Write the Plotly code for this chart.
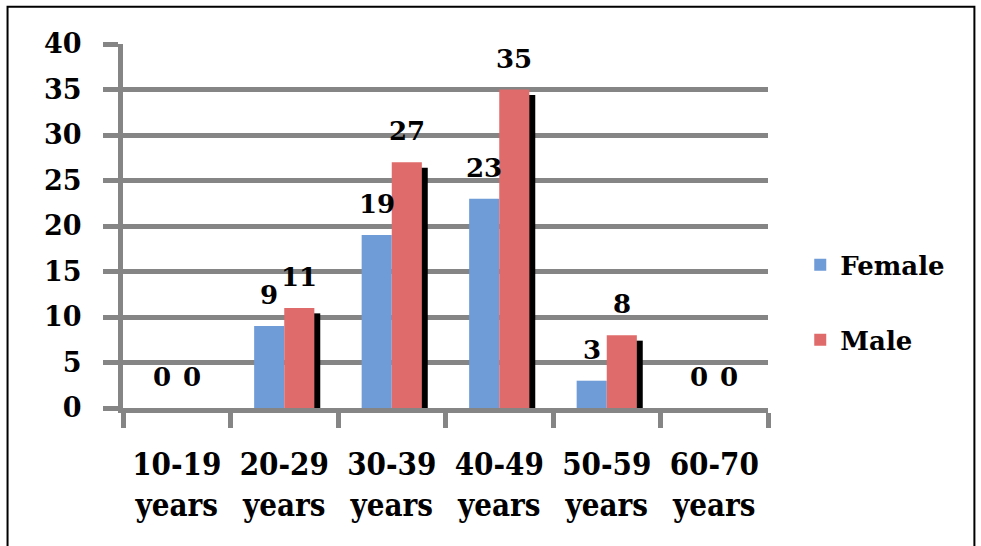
import plotly.graph_objects as go

categories = ["10-19<br>years", "20-29<br>years", "30-39<br>years",
              "40-49<br>years", "50-59<br>years", "60-70<br>years"]
female = [0, 9, 19, 23, 3, 0]
male = [0, 11, 27, 35, 8, 0]
y_ticks = [0, 5, 10, 15, 20, 25, 30, 35, 40]

FONT = "DejaVu Serif"
FONT_C = "DejaVu Serif Condensed, DejaVu Serif"
GRID = "#858585"
FEMALE_C = "#6f9bd6"
MALE_C = "#e06b6b"

shadow = [max(v - 0.6, 0) for v in male]

fig = go.Figure()
fig.add_trace(go.Bar(x=categories, y=female, name="Female", marker_color=FEMALE_C,
                     marker_line_width=0, offset=-0.28, width=0.28, legendgroup="f"))
fig.add_trace(go.Bar(x=categories, y=shadow, name="shadow", marker_color="#000000",
                     marker_line_width=0, offset=0.27, width=0.065, showlegend=False,
                     hoverinfo="skip"))
fig.add_trace(go.Bar(x=categories, y=male, name="Male", marker_color=MALE_C,
                     marker_line_width=0, offset=0.0, width=0.28, legendgroup="m"))

for c, fv, mv in zip(categories, female, male):
    for v, dx in ((fv, -15), (mv, 15)):
        fig.add_annotation(x=c, y=v, text=str(v), showarrow=False, xshift=dx, yshift=14,
                           yanchor="bottom",
                           font=dict(family=FONT, size=26, color="black", weight="bold"))

fig.update_layout(
    width=981, height=546,
    margin=dict(l=123, r=213, t=44, b=138),
    paper_bgcolor="white", plot_bgcolor="white",
    barmode="overlay",
    showlegend=True,
    legend=dict(x=1.05, xanchor="left", y=0.29, yanchor="middle",
                font=dict(family=FONT, size=26, color="black", weight="bold"),
                tracegroupgap=38, bgcolor="rgba(0,0,0,0)"),
    xaxis=dict(type="category", showline=True, linecolor=GRID, linewidth=5,
               ticks="outside", tickson="boundaries", ticklen=15, tickwidth=5, tickcolor=GRID,
               showgrid=False, ticklabelstandoff=25,
               tickfont=dict(family=FONT_C, size=31, color="black", weight="bold")),
    yaxis=dict(range=[0, 40], tickvals=y_ticks, showline=True, linecolor=GRID, linewidth=5,
               ticks="outside", ticklen=15, tickwidth=5, tickcolor=GRID,
               showgrid=True, gridcolor=GRID, gridwidth=5, zeroline=False,
               ticklabelstandoff=16,
               tickfont=dict(family=FONT, size=27, color="black", weight="bold")),
    shapes=[dict(type="rect", xref="paper", yref="paper",
                 x0=-0.179, x1=1.32, y0=-0.6, y1=1.102,
                 line=dict(color="black", width=2), fillcolor="rgba(0,0,0,0)", layer="below")],
)

fig.write_html("out.html")
